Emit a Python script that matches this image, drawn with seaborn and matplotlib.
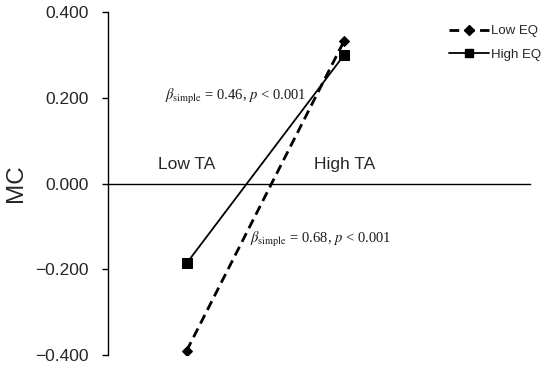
import numpy as np
import pandas as pd
import matplotlib
matplotlib.use("Agg")
import matplotlib.pyplot as plt
import seaborn as sns

# values
ta_levels = ["Low TA", "High TA"]
low_eq = [-0.390, 0.333]
high_eq = [-0.186, 0.300]
groups = ["Low EQ", "High EQ"]
y_ticks = [-0.4, -0.2, 0.0, 0.2, 0.4]
notes = [r"$\beta_{\mathrm{simple}}$ = 0.46, $p$ < 0.001",
         r"$\beta_{\mathrm{simple}}$ = 0.68, $p$ < 0.001"]

df = pd.DataFrame({
    "TA": ta_levels * 2,
    "MC": low_eq + high_eq,
    "EQ": [groups[0]] * 2 + [groups[1]] * 2,
})

sns.set_style("white")
plt.rcParams["font.family"] = ["Liberation Sans", "DejaVu Sans"]
plt.rcParams["mathtext.fontset"] = "stix"

fig = plt.figure(figsize=(5.5, 3.73), dpi=100)
ax = fig.add_axes([0.196, 0.048, 0.768, 0.92])

sns.lineplot(
    data=df, x="TA", y="MC", hue="EQ", style="EQ",
    hue_order=groups, style_order=groups,
    palette={"Low EQ": "black", "High EQ": "black"},
    markers={"Low EQ": "D", "High EQ": "s"},
    dashes={"Low EQ": (3.5, 2), "High EQ": ""},
    markersize=6.5, ax=ax, legend=False,
)
for line, lw in zip(ax.lines, [2.0, 1.3]):
    line.set_linewidth(lw)
    line.set_markeredgecolor("black")
ax.lines[0].set_markersize(5.5)

ax.set_xlim(-0.5, 2.18)
ax.set_ylim(-0.4, 0.4)
ax.set_yticks(y_ticks)
ax.set_yticklabels([f"{v:.3f}".replace("-", "\u2212") for v in y_ticks], fontsize=12.5)
ax.tick_params(axis="y", left=True, direction="out", length=4, width=1,
               color="black", pad=10)

# category axis drawn through zero, labels above it
ax.xaxis.tick_top()
ax.spines["top"].set_position(("data", 0))
ax.spines["bottom"].set_visible(False)
ax.spines["right"].set_visible(False)
for s in ["top", "left"]:
    ax.spines[s].set_color("black")
    ax.spines[s].set_linewidth(1.0)
ax.tick_params(axis="x", length=0, labelsize=12.5, pad=8, top=True, labeltop=True,
               bottom=False, labelbottom=False)
ax.set_xlabel("")
ax.set_ylabel("MC", fontsize=17.5, labelpad=6)

ax.text(-0.14, 0.195, notes[0], fontsize=10.5, family="Liberation Serif", color="#1a1a1a")
ax.text(0.40, -0.138, notes[1], fontsize=10.5, family="Liberation Serif", color="#1a1a1a")

handles = [
    plt.Line2D([], [], color="black", ls=(0, (3.5, 2)), lw=2.0, marker="D", markersize=5),
    plt.Line2D([], [], color="black", ls="-", lw=1.3, marker="s", markersize=6),
]
fig.legend(handles, groups, loc="upper left", bbox_to_anchor=(0.795, 0.965),
           frameon=False, fontsize=9.5, handlelength=3.0, handletextpad=0.2,
           labelspacing=0.85)

fig.savefig("out.png", dpi=100)
